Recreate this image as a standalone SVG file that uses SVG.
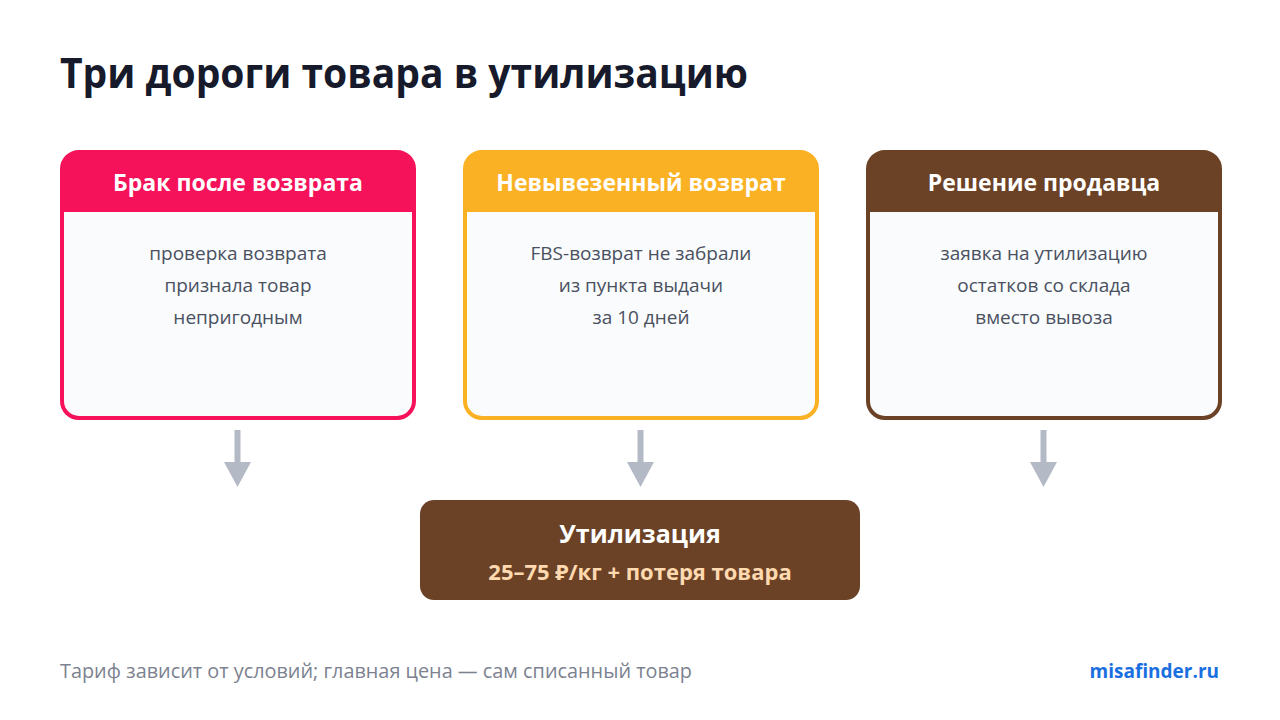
<svg xmlns="http://www.w3.org/2000/svg" width="1280" height="720" viewBox="0 0 1280 720">
<defs>
<style>
.t{font-family:"Open Sans","Noto Sans","DejaVu Sans",sans-serif}
.title{font-size:41px;font-weight:700;fill:#161a2b}
.hd{font-size:23px;font-weight:700;fill:#ffffff}
.bd{font-size:19px;fill:#4a5060}
.ft{font-size:19.8px;fill:#7c8290}
.arrow{fill:#b4b9c6}
</style>
<clipPath id="c1"><rect x="62" y="152" width="352" height="266" rx="17"/></clipPath>
<clipPath id="c2"><rect x="465" y="152" width="352" height="266" rx="17"/></clipPath>
<clipPath id="c3"><rect x="868" y="152" width="352" height="266" rx="17"/></clipPath>
</defs>
<rect width="1280" height="720" fill="#ffffff"/>
<text class="t title" x="60" y="88" textLength="688" lengthAdjust="spacingAndGlyphs">Три дороги товара в утилизацию</text>

<g id="node-brak">
<g clip-path="url(#c1)"><rect x="62" y="152" width="352" height="266" fill="#f9fbfd"/><rect x="62" y="152" width="352" height="60" fill="#f5125a"/></g>
<rect x="62" y="152" width="352" height="266" rx="17" fill="none" stroke="#f5125a" stroke-width="4"/>
<text class="t hd" x="238" y="191" text-anchor="middle">Брак после возврата</text>
<text class="t bd" text-anchor="middle"><tspan x="238" y="260">проверка возврата</tspan><tspan x="238" y="292">признала товар</tspan><tspan x="238" y="324">непригодным</tspan></text>
</g>

<g id="node-nevyvez">
<g clip-path="url(#c2)"><rect x="465" y="152" width="352" height="266" fill="#f9fbfd"/><rect x="465" y="152" width="352" height="60" fill="#fbb124"/></g>
<rect x="465" y="152" width="352" height="266" rx="17" fill="none" stroke="#fbb124" stroke-width="4"/>
<text class="t hd" x="641" y="191" text-anchor="middle">Невывезенный возврат</text>
<text class="t bd" text-anchor="middle"><tspan x="641" y="260">FBS-возврат не забрали</tspan><tspan x="641" y="292">из пункта выдачи</tspan><tspan x="641" y="324">за 10 дней</tspan></text>
</g>

<g id="node-reshenie">
<g clip-path="url(#c3)"><rect x="868" y="152" width="352" height="266" fill="#f9fbfd"/><rect x="868" y="152" width="352" height="60" fill="#6b4226"/></g>
<rect x="868" y="152" width="352" height="266" rx="17" fill="none" stroke="#6b4226" stroke-width="4"/>
<text class="t hd" x="1044" y="191" text-anchor="middle">Решение продавца</text>
<text class="t bd" text-anchor="middle"><tspan x="1044" y="260">заявка на утилизацию</tspan><tspan x="1044" y="292">остатков со склада</tspan><tspan x="1044" y="324">вместо вывоза</tspan></text>
</g>

<g id="connectors">
<rect class="arrow" x="234.5" y="430" width="6" height="33"/><polygon class="arrow" points="224,462 251,462 237.5,487"/>
<rect class="arrow" x="637.5" y="430" width="6" height="33"/><polygon class="arrow" points="627,462 654,462 640.5,487"/>
<rect class="arrow" x="1040.5" y="430" width="6" height="33"/><polygon class="arrow" points="1030,462 1057,462 1043.5,487"/>
</g>

<g id="node-util">
<rect x="420" y="500" width="440" height="100" rx="14" fill="#6b4226"/>
<text class="t" x="640" y="543" text-anchor="middle" font-size="25" font-weight="700" fill="#ffffff">Утилизация</text>
<text class="t" x="640" y="580" text-anchor="middle" font-size="22" font-weight="700" fill="#ffd9b0">25–75 ₽/кг + потеря товара</text>
</g>

<text class="t ft" x="60" y="678" textLength="632" lengthAdjust="spacingAndGlyphs">Тариф зависит от условий; главная цена — сам списанный товар</text>
<text class="t" x="1219" y="678" text-anchor="end" font-size="19" font-weight="700" fill="#1a6fe0">misafinder.ru</text>
</svg>
